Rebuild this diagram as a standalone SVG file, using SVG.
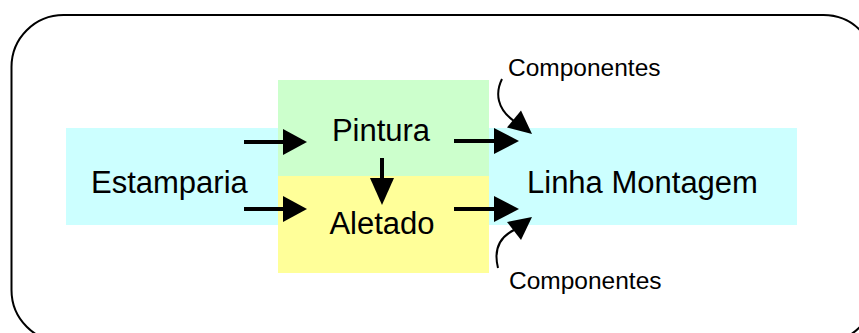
<svg xmlns="http://www.w3.org/2000/svg" width="859" height="333" viewBox="0 0 859 333">
  <style>
    .lbl { font-family: "Liberation Sans", Arial, sans-serif; fill: #000; }
    .big { font-size: 31px; }
    .small { font-size: 24.5px; }
    .shaft { stroke: #000; stroke-width: 4; fill: none; }
    .curve { stroke: #000; stroke-width: 2; fill: none; }
    .head { fill: #000; }
  </style>

  <!-- outer frame -->
  <rect x="11.5" y="15" width="864" height="327" rx="52" ry="52" fill="#fff" stroke="#000" stroke-width="2"/>

  <g id="estamparia">
    <rect x="66" y="128" width="212" height="97" fill="#CCFFFF"/>
    <text class="lbl big" x="91" y="193">Estamparia</text>
  </g>

  <g id="pintura">
    <rect x="278" y="80" width="211" height="96" fill="#CCFFCC"/>
    <text class="lbl big" x="381" y="141" text-anchor="middle">Pintura</text>
  </g>

  <g id="aletado">
    <rect x="278" y="176" width="211" height="97" fill="#FFFF99"/>
    <text class="lbl big" x="382" y="234" text-anchor="middle">Aletado</text>
  </g>

  <g id="linha-montagem">
    <rect x="489" y="128" width="308" height="97" fill="#CCFFFF"/>
    <text class="lbl big" x="527" y="193">Linha Montagem</text>
  </g>

  <g id="componentes-top">
    <text class="lbl small" x="508" y="76">Componentes</text>
  </g>

  <g id="componentes-bottom">
    <text class="lbl small" x="509" y="289">Componentes</text>
  </g>

  <g id="connectors">
    <!-- Estamparia -> Pintura -->
    <line class="shaft" x1="244" y1="142" x2="286" y2="142"/>
    <polygon class="head" points="283,129 307,142 283,155"/>
    <!-- Estamparia -> Aletado -->
    <line class="shaft" x1="244" y1="209" x2="286" y2="209"/>
    <polygon class="head" points="283,196 307,209 283,222"/>
    <!-- Pintura -> Aletado -->
    <line class="shaft" x1="382" y1="158" x2="382" y2="181"/>
    <polygon class="head" points="370,178 394,178 382,205"/>
    <!-- Pintura -> Linha Montagem -->
    <line class="shaft" x1="454" y1="141" x2="497" y2="141"/>
    <polygon class="head" points="494,128 519,141 494,154"/>
    <!-- Aletado -> Linha Montagem -->
    <line class="shaft" x1="454" y1="209" x2="497" y2="209"/>
    <polygon class="head" points="494,196 519,209 494,222"/>
    <!-- Componentes (top) -> Linha Montagem -->
    <path class="curve" d="M502,79 C495,93 497,109 514,121"/>
    <polygon class="head" points="507,127.5 521,110.5 532,134"/>
    <!-- Componentes (bottom) -> Linha Montagem -->
    <path class="curve" d="M498,268 C494,252 498,238 514,230"/>
    <polygon class="head" points="507,222 521,240 532,217"/>
  </g>
</svg>
